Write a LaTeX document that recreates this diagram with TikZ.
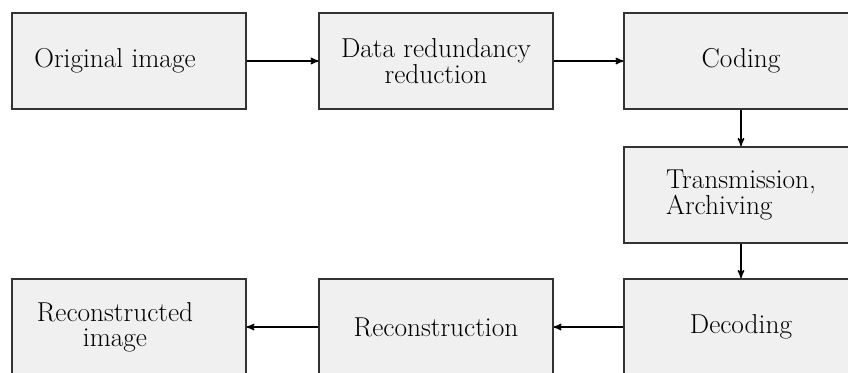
\documentclass[tikz,border=0pt]{standalone}
\usepackage{tikz}
\usetikzlibrary{arrows}
\tikzstyle{stage}=[draw=black!80,line width=1.5pt,fill=black!6,minimum width=175pt,minimum height=72pt,inner sep=0pt,align=center,font=\fontsize{20.5}{19}\selectfont]
\tikzstyle{flow} = [draw,line width=1.1pt,->]

\begin{document}
\begin{tikzpicture}[x=0.75pt,y=-0.75pt,>=stealth']
				\clip (0,0) rectangle (848,372);
				% First we place the stages
				\foreach \pos/\name/\lbl in {{(129,61)/orig/{Original image\hspace*{21pt}}},
										{(436,61)/red/{Data redundancy\\reduction}}, {(741,61)/cod/Coding},
										{(741,327)/dec/Decoding}, {(436,327)/rec/Reconstruction},
										{(129,327)/out/{Reconstructed\hspace*{21pt}\\image\hspace*{21pt}}}}
				\node[stage] (\name) at \pos {\lbl};
				\node[stage, align=left] (tra) at (741,195) {Transmission,\\Archiving};

				% Connect the stages with arrows
				\foreach \source/ \dest in {orig/red, red/cod, cod/tra, tra/dec, dec/rec, rec/out}
				\path[flow] (\source) -- (\dest);

			\end{tikzpicture}
\end{document}
